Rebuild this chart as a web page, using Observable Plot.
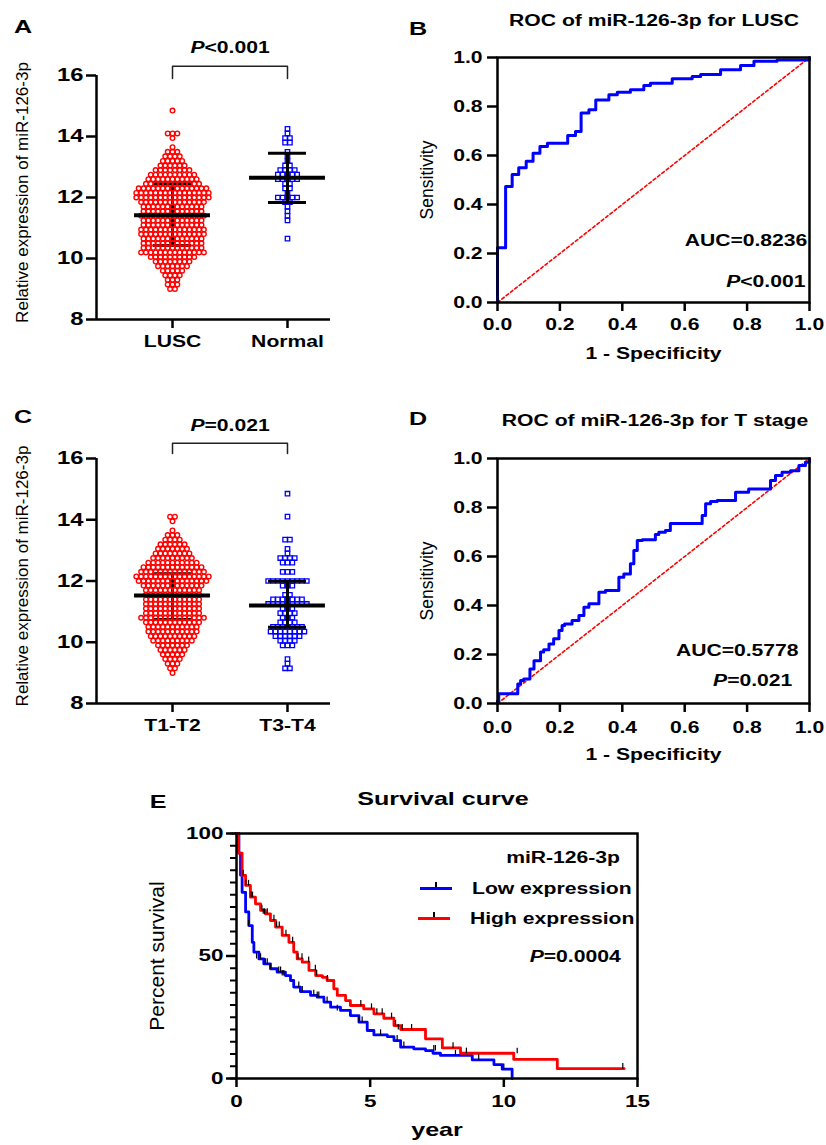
<!DOCTYPE html>
<html><head><meta charset="utf-8">
<script src="https://cdn.jsdelivr.net/npm/d3@7"></script>
<script src="https://cdn.jsdelivr.net/npm/@observablehq/plot@0.6"></script>
<style>
body{margin:0;background:#fff;}
#fig{position:relative;width:826px;height:1145px;overflow:hidden;background:#fff;font-family:"Liberation Sans",Arial,Helvetica,sans-serif;color:#000;}
.panel{position:absolute;}
.lbl{position:absolute;white-space:nowrap;}
.sw{position:absolute;}
</style></head>
<body><div id="fig"></div>
<script>
// ---------------- DATA ----------------
// expression bins (row levels) shared by panels A and C
const levels = [14.85,14.7,14.55,14.4,14.25,14.1,13.95,13.8,13.65,13.5,13.35,13.2,13.05,12.9,12.75,12.6,12.45,12.3,12.15,12.0,
                11.85,11.7,11.55,11.4,11.25,11.1,10.95,10.8,10.65,10.5,10.35,10.2,10.05,9.9,9.75,9.6,9.45,9.3,9.15,9.0];
const countLUSC   = [1,0,0,0,0,3,1,0,1,3,4,5,6,8,10,11,12,15,16,16,14,13,13,14,13,13,14,14,13,13,13,14,10,8,7,5,4,3,3,2];
const countNormal = [0,0,0,0,1,1,2,2,0,1,1,1,2,4,5,5,2,2,1,5,2,1,1,1,1,0,0,0,1,0,0,0,0,0,0,0,0,0,0,0];
const countT12    = [0,0,0,0,0,2,1,0,1,3,4,6,7,8,9,11,13,14,16,15,13,12,12,12,12,12,12,14,12,11,11,10,9,7,6,5,4,3,2,1];
const countT34    = [1,0,0,0,0,1,0,0,0,0,2,0,1,1,4,3,0,3,0,9,3,0,2,7,9,3,4,3,4,7,8,6,4,3,0,0,1,1,2,0];

const groupsA = ["LUSC", "Normal"];
const meanA = [11.42, 12.65], sdHiA = [12.45, 13.45], sdLoA = [10.43, 11.84];
const groupsC = ["T1-T2", "T3-T4"];
const meanC = [11.53, 11.20], sdHiC = [12.24, 11.99], sdLoC = [10.74, 10.49];
const exprTicks = [8, 10, 12, 14, 16];
const exprLabel = "Relative expression of miR-126-3p";
const pA = "P<0.001", pC = "P=0.021";

// ROC curves
const rocB_fpr = [0,0.026,0.047,0.068,0.092,0.114,0.136,0.16,0.225,0.25,0.268,0.293,0.315,0.357,0.384,0.426,0.469,0.49,0.56,0.624,0.651,0.715,0.779,0.822,0.896,1.0,1.0];
const rocB_tpr = [0,0.223,0.473,0.522,0.55,0.577,0.609,0.637,0.65,0.682,0.698,0.773,0.787,0.827,0.848,0.858,0.868,0.886,0.895,0.913,0.922,0.931,0.95,0.967,0.985,0.99,1.0];
const rocD_fpr = [0,0.004,0.015,0.065,0.074,0.084,0.104,0.117,0.138,0.148,0.165,0.18,0.197,0.207,0.215,0.239,0.261,0.277,0.293,0.325,0.346,0.357,0.389,0.405,0.426,0.437,0.448,0.464,0.506,0.517,0.538,0.554,0.576,0.656,0.667,0.683,0.704,0.763,0.805,0.822,0.875,0.891,0.912,0.939,0.966,0.987,1.0,1.0];
const rocD_tpr = [0,0.01,0.04,0.04,0.08,0.094,0.10,0.141,0.175,0.21,0.219,0.243,0.264,0.298,0.318,0.325,0.339,0.359,0.393,0.407,0.454,0.461,0.461,0.515,0.529,0.57,0.624,0.665,0.668,0.69,0.699,0.706,0.735,0.735,0.767,0.815,0.824,0.829,0.862,0.876,0.876,0.91,0.931,0.944,0.95,0.971,0.985,1.0];
const rocTicks = [0, 0.2, 0.4, 0.6, 0.8, 1.0];
const aucB = "AUC=0.8236", pB = "P<0.001";
const aucD = "AUC=0.5778", pD = "P=0.021";

// Survival (Kaplan-Meier) curves
const lowT  = [0,0.09,0.15,0.21,0.34,0.46,0.59,0.65,0.84,1.02,1.27,1.52,1.83,2.02,2.14,2.39,2.77,3.02,3.27,3.52,3.89,4.26,4.58,4.89,5.14,5.64,5.89,6.14,6.63,7.07,7.35,7.63,8.82,9.63,9.94,10.31];
const lowS  = [100,92,83,76,68,62.4,55.6,51.6,48.8,46.8,44.8,43.4,42,40,37.3,35.5,33.9,33.2,31.2,29.1,27.8,25.7,23,19.6,17.8,17.1,15.5,12.8,12.1,11.4,10.3,9.4,7.6,5.7,3.8,0];
const highT = [0,0.08,0.21,0.34,0.52,0.71,0.9,1.08,1.27,1.46,1.71,1.96,2.14,2.27,2.46,2.71,2.96,3.21,3.39,3.64,3.77,4.08,4.26,4.76,5.14,5.51,5.89,6.14,7.07,7.7,8.38,10.37,12.0,14.5];
const highS = [100,92,82.9,78.8,74,71.3,68.6,67.2,64.5,61.8,58.4,55.6,51.6,48.8,47.5,44.1,42,41.3,40,36.6,33.9,31.8,29.8,28.4,26.4,24.6,21.6,20,16.2,12.5,10.3,7.8,4,4];
const lowCensT  = [0.45,0.75,0.9,1.08,1.15,1.27,1.58,1.65,1.71,1.77,2.33,2.46,2.89,3.02,3.08,3.39,3.77,4.58,4.7,5.39,6.01,6.26,7.38,7.44,8.19,9.06,10.0];
const lowCensS  = [62.4,49,48.8,46.8,46.8,44.8,43.4,43.4,42,42,37.3,35.5,33.9,33.2,33.2,31.2,27.8,23,23,17.8,15.5,12.8,11.4,11.4,9.4,7.6,3.8];
const highCensT = [0.25,0.35,0.45,0.55,0.6,0.95,1.0,1.05,1.15,1.4,1.5,1.6,1.85,2.1,2.3,2.45,2.7,2.95,3.0,3.4,4.65,5.05,5.25,5.45,5.8,5.95,6.05,6.2,6.55,8.1,8.6,10.5,14.45];
const highCensS = [82.9,78.8,78.8,74,74,68.6,67.2,67.2,67.2,64.5,61.8,61.8,58.4,55.6,48.8,48.8,47.5,44.1,42,40,29.8,28.4,26.4,26.4,24.6,21.6,20,20,20,12.5,10.3,10.3,4];
const survXTicks = [0, 5, 10, 15];
const survYTicks = [0, 50, 100];
const survP = "P=0.0004";

// ---------------- STYLE ----------------
const FONT = '"Liberation Sans", Arial, Helvetica, sans-serif';
const K = 1.32;            // horizontal stretch of the original figure text
const RED = "#ff0000", BLUE = "#0000ff";
const X_DOMAIN = [-0.661, 1.374];
const DOT_STEP = 0.042, CAP = 0.165, MEANW = 0.33;
const baseStyle = {fontFamily: FONT, fontSize: "16px", fontWeight: "bold", color: "black", background: "transparent", overflow: "visible"};
const fig = document.getElementById("fig");

function swarm(counts, pos) {
  const out = [];
  levels.forEach((v, i) => {
    const n = counts[i];
    for (let k = 0; k < n; k++) out.push({v, x: pos + (k - (n - 1) / 2) * DOT_STEP});
  });
  return out;
}
function pairs(a, b, ka, kb) { return a.map((d, i) => ({[ka]: d, [kb]: b[i]})); }

function exprPanel({groups, counts, means, his, los, pText, brLo, brHi, pY, height, marginTop, marginBottom}) {
  const pts0 = swarm(counts[0], 0), pts1 = swarm(counts[1], 1);
  const stats = groups.map((g, i) => ({pos: i, mean: means[i], hi: his[i], lo: los[i]}));
  const sd = (filter) => [
    Plot.ruleX(stats, {filter, x: "pos", y1: "lo", y2: "hi", strokeWidth: 3}),
    Plot.ruleY(stats, {filter, y: "hi", x1: d => d.pos - CAP, x2: d => d.pos + CAP, strokeWidth: 3}),
    Plot.ruleY(stats, {filter, y: "lo", x1: d => d.pos - CAP, x2: d => d.pos + CAP, strokeWidth: 3})
  ];
  const bracket = [{x: 0, y: brLo}, {x: 0, y: brHi}, {x: 1, y: brHi}, {x: 1, y: brLo}];
  return Plot.plot({
    width: 345, height, marginLeft: 96, marginRight: 15, marginTop, marginBottom,
    style: baseStyle,
    x: {domain: X_DOMAIN}, y: {domain: [8, 16]},
    marks: [
      ...sd(d => d.pos === 0),
      Plot.dot(pts0, {x: "x", y: "v", r: 2.3, stroke: RED, fill: "none", strokeWidth: 1.4}),
      Plot.dot(pts1, {x: "x", y: "v", r: 2.5, symbol: "square", stroke: BLUE, fill: "none", strokeWidth: 1.3}),
      Plot.ruleY(stats, {y: "mean", x1: d => d.pos - MEANW, x2: d => d.pos + MEANW, strokeWidth: 4}),
      ...sd(d => d.pos === 1),
      Plot.ruleX([X_DOMAIN[0]], {strokeWidth: 2.5}),
      Plot.ruleY([8], {strokeWidth: 2.5}),
      Plot.axisX({ticks: [0, 1], tickFormat: i => groups[i], tickSize: 9, tickPadding: 7, strokeWidth: 2.5, fontSize: 16, label: null}),
      Plot.axisY({ticks: exprTicks, tickSize: 10, tickPadding: 3, strokeWidth: 2.5, fontSize: 18, label: null}),
      Plot.line(bracket, {x: "x", y: "y", strokeWidth: 1.5, stroke: "#222"}),
      Plot.text([pText], {x: 0.5, y: pY, text: d => d, fontSize: 16}),
      Plot.text([exprLabel], {frameAnchor: "left", dx: -74, dy: -5, rotate: -90, textAnchor: "middle", text: d => d, fontSize: 17, fontWeight: "normal"})
    ]
  });
}

function rocPanel({fpr, tpr, auc, pv, aucPos, pPos, height, marginTop, marginBottom, padX}) {
  const curve = pairs(fpr, tpr, "fpr", "tpr");
  const diag = [{fpr: 0, tpr: 0}, {fpr: 1, tpr: 1}];
  return Plot.plot({
    width: 426, height, marginLeft: 97, marginRight: 17, marginTop, marginBottom,
    style: baseStyle,
    x: {domain: [0, 1]}, y: {domain: [0, 1]},
    marks: [
      Plot.line(diag, {x: "fpr", y: "tpr", stroke: RED, strokeWidth: 1.6, strokeDasharray: "3,2.5"}),
      Plot.line(curve, {x: "fpr", y: "tpr", curve: "step-before", stroke: BLUE, strokeWidth: 3}),
      Plot.frame({strokeWidth: 2.5}),
      Plot.axisX({ticks: rocTicks, tickFormat: d3.format(".1f"), tickSize: 9, tickPadding: padX, strokeWidth: 2.5, fontSize: 16, label: null}),
      Plot.axisY({ticks: rocTicks, tickFormat: d3.format(".1f"), tickSize: 10, tickPadding: 5, strokeWidth: 2.5, fontSize: 16, label: null}),
      Plot.text([auc], {x: aucPos[0], y: aucPos[1], text: d => d, textAnchor: "end", fontSize: 16}),
      Plot.text([pv], {x: pPos[0], y: pPos[1], text: d => d, textAnchor: "end", fontSize: 16}),
      Plot.text(["1 - Specificity"], {frameAnchor: "bottom", dy: 56, text: d => d, fontSize: 16}),
      Plot.text(["Sensitivity"], {frameAnchor: "left", dx: -70, rotate: -90, textAnchor: "middle", text: d => d, fontSize: 17.5, fontWeight: "normal"})
    ]
  });
}

const censorSymbol = {draw(ctx, size) { const h = Math.sqrt(size / Math.PI) * 2; ctx.moveTo(0, 0); ctx.lineTo(0, -h); }};

function survPanel() {
  return Plot.plot({
    width: 826, height: 375, marginLeft: 236, marginRight: 189, marginTop: 63, marginBottom: 67,
    style: baseStyle,
    x: {domain: [0, 15]}, y: {domain: [0, 100]},
    marks: [
      Plot.line(pairs(lowT, lowS, "t", "s"), {x: "t", y: "s", curve: "step-after", stroke: BLUE, strokeWidth: 2.8}),
      Plot.line(pairs(highT, highS, "t", "s"), {x: "t", y: "s", curve: "step-after", stroke: RED, strokeWidth: 2.8}),
      Plot.dot(pairs(lowCensT, lowCensS, "t", "s"), {x: "t", y: "s", symbol: censorSymbol, r: 2.8, stroke: "black", fill: "none", strokeWidth: 1.2}),
      Plot.dot(pairs(highCensT, highCensS, "t", "s"), {x: "t", y: "s", symbol: censorSymbol, r: 2.8, stroke: "black", fill: "none", strokeWidth: 1.2}),
      Plot.frame({strokeWidth: 2.5}),
      Plot.axisX({ticks: survXTicks, tickSize: 9, tickPadding: 7, strokeWidth: 2.5, fontSize: 17, label: null}),
      Plot.axisY({interval: 5, tickSize: 6, tickFormat: () => "", strokeWidth: 2, label: null}),
      Plot.axisY({ticks: survYTicks, tickSize: 10, tickPadding: 3, strokeWidth: 2.5, fontSize: 17, label: null}),
      Plot.text([survP], {x: 14.37, y: 49.8, text: d => d, textAnchor: "end", fontSize: 16}),
      Plot.text(["year"], {frameAnchor: "bottom", dy: 57, text: d => d, fontSize: 19}),
      Plot.text(["Percent survival"], {frameAnchor: "left", dx: -79, rotate: -90, textAnchor: "middle", text: d => d, fontSize: 21, fontWeight: "normal"})
    ]
  });
}

function place(svg, left, top, width) {
  const d = document.createElement("div");
  d.className = "panel";
  d.style.left = left + "px"; d.style.top = top + "px"; d.style.width = width + "px";
  d.appendChild(svg);
  fig.appendChild(d);
  const ns = "http://www.w3.org/2000/svg";
  svg.querySelectorAll("text").forEach(t => {
    const m = /^P([<=].*)$/.exec(t.textContent);
    if (m && t.children.length === 0) {
      t.textContent = "";
      const ts = document.createElementNS(ns, "tspan");
      ts.setAttribute("font-style", "italic");
      ts.textContent = "P";
      t.appendChild(ts);
      t.appendChild(document.createTextNode(m[1]));
    }
  });
  svg.querySelectorAll("text").forEach(t => {
    const tr = (t.getAttribute("transform") || "") + (t.parentNode.getAttribute && (t.parentNode.getAttribute("transform") || ""));
    if (/rotate/.test(tr)) return;
    const w = t.getComputedTextLength();
    if (w > 0) { t.setAttribute("textLength", (w * K).toFixed(2)); t.setAttribute("lengthAdjust", "spacingAndGlyphs"); }
  });
}

function label(text, x, baseline, size, anchor = "middle", weight = "bold") {
  const d = document.createElement("div");
  d.className = "lbl";
  d.textContent = text;
  d.style.fontSize = size + "px";
  d.style.lineHeight = size + "px";
  d.style.fontWeight = weight;
  d.style.left = x + "px";
  d.style.top = (baseline - 0.8465 * size) + "px";
  const tx = anchor === "middle" ? "-50%" : anchor === "end" ? "-100%" : "0";
  d.style.transformOrigin = anchor === "middle" ? "center" : anchor === "end" ? "right center" : "left center";
  d.style.transform = `translateX(${tx}) scaleX(${K})`;
  fig.appendChild(d);
  return d;
}
function swatch(color, x, y, w) {
  const s = document.createElement("div");
  s.className = "sw";
  s.style.left = x + "px"; s.style.top = (y - 1.5) + "px"; s.style.width = w + "px"; s.style.height = "3px"; s.style.background = color;
  fig.appendChild(s);
  const t = document.createElement("div");
  t.className = "sw";
  t.style.left = (x + w / 2 - 0.6) + "px"; t.style.top = (y - 6) + "px"; t.style.width = "1.2px"; t.style.height = "5px"; t.style.background = "#000";
  fig.appendChild(t);
}

// ---------------- RENDER ----------------
place(exprPanel({groups: groupsA, counts: [countLUSC, countNormal], means: meanA, his: sdHiA, los: sdLoA,
  pText: pA, brLo: 15.9, brHi: 16.3, pY: 16.92, height: 370, marginTop: 75, marginBottom: 51}), 0, 0, 345);
place(exprPanel({groups: groupsC, counts: [countT12, countT34], means: meanC, his: sdHiC, los: sdLoC,
  pText: pC, brLo: 16.16, brHi: 16.5, pY: 17.08, height: 370, marginTop: 88, marginBottom: 37}), 0, 370, 345);
place(rocPanel({fpr: rocB_fpr, tpr: rocB_tpr, auc: aucB, pv: pB, aucPos: [0.993, 0.25], pPos: [0.987, 0.086],
  height: 370, marginTop: 57, marginBottom: 68, padX: 7}), 400, 0, 426);
place(rocPanel({fpr: rocD_fpr, tpr: rocD_tpr, auc: aucD, pv: pD, aucPos: [0.965, 0.216], pPos: [0.945, 0.094],
  height: 400, marginTop: 88, marginBottom: 67, padX: 9}), 400, 370, 426);
place(survPanel(), 0, 770, 826);

label("A", 22.5, 33, 19);
label("B", 417.5, 35, 19);
label("C", 22.5, 423, 19);
label("D", 417.5, 425, 19);
label("E", 157.5, 808, 19);
label("ROC of miR-126-3p for LUSC", 654, 27, 16);
label("ROC of miR-126-3p for T stage", 655, 427, 16);
label("Survival curve", 443, 805, 19);
label("miR-126-3p", 620, 864, 16, "end");
swatch(BLUE, 420, 888, 32);
label("Low expression", 472, 895, 16, "start");
swatch(RED, 418, 918, 32);
label("High expression", 470, 925, 16, "start");
</script>
</body></html>
